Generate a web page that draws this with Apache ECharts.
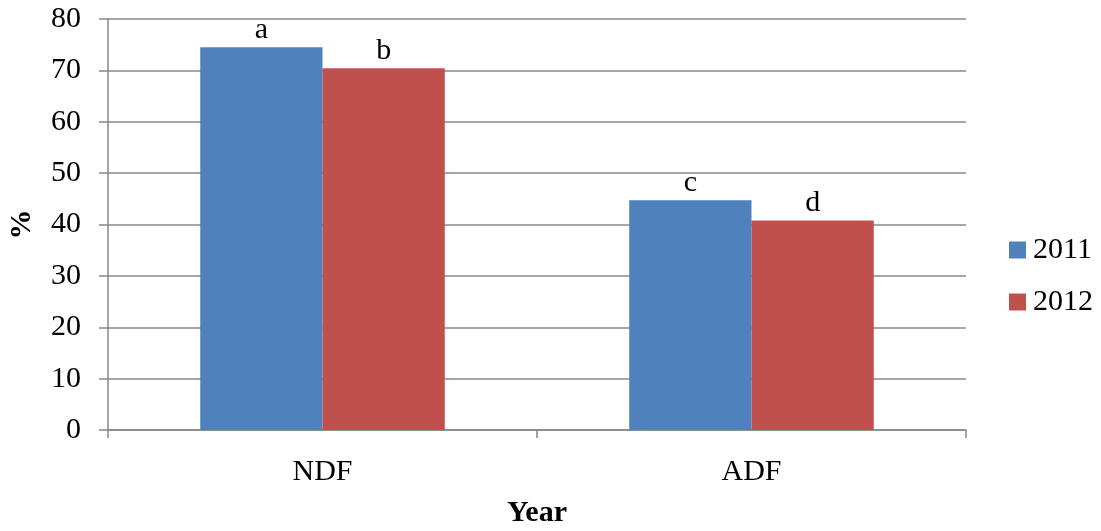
<!DOCTYPE html>
<html><head><meta charset="utf-8">
<script src="https://cdn.jsdelivr.net/npm/echarts@6/dist/echarts.min.js"></script>
<style>html,body{margin:0;padding:0;background:#fff}#c{width:1101px;height:531px}</style>
</head><body><div id="c"></div>
<script>
const categories = ['NDF', 'ADF'];
const seriesNames = ['2011', '2012'];
const values2011 = [74.5, 44.7];
const values2012 = [70.4, 40.8];
const letters2011 = ['a', 'c'];
const letters2012 = ['b', 'd'];

const font = 'Liberation Serif, Times New Roman, serif';
const fs = 30;
const gridColor = '#888888';
const chart = echarts.init(document.getElementById('c'));
function mkLabel(letters){
  return {show:true, position:'top', distance:2, fontFamily:font, fontSize:fs, color:'#000',
    formatter: p => letters[p.dataIndex]};
}
chart.setOption({
  animation:false,
  textStyle:{fontFamily:font},
  grid:{left:108, right:135, top:19, bottom:101, containLabel:false, outerBoundsMode:'none'},
  legend:{orient:'vertical', left:1004, top:230, itemWidth:17, itemHeight:17, itemGap:22,
    icon:'rect', textStyle:{fontFamily:font, fontSize:fs, color:'#000', lineHeight:17, padding:[0,0,0,2]},
    data:seriesNames},
  xAxis:{type:'category', data:categories, name:'Year', nameLocation:'middle', nameGap:68,
    nameTextStyle:{fontFamily:font, fontSize:fs, fontWeight:'bold', color:'#000'},
    axisLine:{lineStyle:{color:gridColor, width:1.5}},
    axisTick:{show:true, length:8, alignWithLabel:false, lineStyle:{color:gridColor, width:1.5}},
    axisLabel:{fontFamily:font, fontSize:fs, color:'#000', margin:27}},
  yAxis:{type:'value', min:0, max:80, interval:10, name:'%', nameLocation:'middle', nameGap:71, nameRotate:90,
    nameTextStyle:{fontFamily:font, fontSize:fs, fontWeight:'bold', color:'#000'},
    axisLine:{show:true, lineStyle:{color:gridColor, width:1.5}},
    axisTick:{show:true, length:9, lineStyle:{color:gridColor, width:1.5}},
    axisLabel:{fontFamily:font, fontSize:fs, color:'#000', margin:27},
    splitLine:{show:true, lineStyle:{color:gridColor, width:1.5}}},
  series:[
    {name:seriesNames[0], type:'bar', data:values2011, barGap:'0%', barCategoryGap:'43%',
      itemStyle:{color:'#4f81bd'}, label:mkLabel(letters2011)},
    {name:seriesNames[1], type:'bar', data:values2012,
      itemStyle:{color:'#c0504d'}, label:mkLabel(letters2012)}
  ]
});
</script></body></html>
